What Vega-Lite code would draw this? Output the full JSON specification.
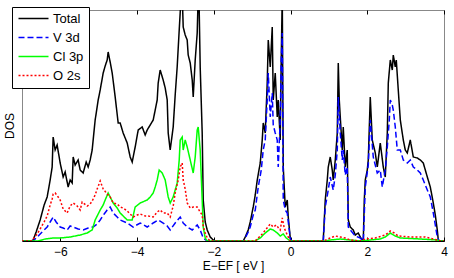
{
"$schema":"https://vega.github.io/schema/vega-lite/v6.json",
"width":422,"height":231,
"autosize":{"type":"none"},
"padding":{"left":22,"top":10,"right":10,"bottom":37},
"config":{"font":"Liberation Sans","view":{"stroke":"#888888","strokeWidth":1},"background":"white"},
"datasets":{"dos":[
{"s":"Total","x":-7,"y":0},{"s":"Total","x":-6.762,"y":0},{"s":"Total","x":-6.709,"y":0.1},{"s":"Total","x":-6.631,"y":0.9},{"s":"Total","x":-6.527,"y":2.1},{"s":"Total","x":-6.423,"y":3.6},{"s":"Total","x":-6.344,"y":4.4},{"s":"Total","x":-6.266,"y":6.1},{"s":"Total","x":-6.214,"y":7.4},{"s":"Total","x":-6.188,"y":10.4},{"s":"Total","x":-6.136,"y":9.1},{"s":"Total","x":-6.084,"y":9.6},{"s":"Total","x":-6.005,"y":7.8},{"s":"Total","x":-5.927,"y":6.4},{"s":"Total","x":-5.875,"y":6.9},{"s":"Total","x":-5.797,"y":5.4},{"s":"Total","x":-5.745,"y":6.1},{"s":"Total","x":-5.692,"y":5.8},{"s":"Total","x":-5.666,"y":8.4},{"s":"Total","x":-5.614,"y":7.6},{"s":"Total","x":-5.536,"y":8.1},{"s":"Total","x":-5.484,"y":7.1},{"s":"Total","x":-5.406,"y":6.8},{"s":"Total","x":-5.327,"y":7.9},{"s":"Total","x":-5.275,"y":7.4},{"s":"Total","x":-5.223,"y":8.1},{"s":"Total","x":-5.171,"y":9.1},{"s":"Total","x":-5.093,"y":12.1},{"s":"Total","x":-5.014,"y":14.1},{"s":"Total","x":-4.962,"y":15.1},{"s":"Total","x":-4.884,"y":16.8},{"s":"Total","x":-4.832,"y":17.5},{"s":"Total","x":-4.78,"y":18.1},{"s":"Total","x":-4.754,"y":18.9},{"s":"Total","x":-4.702,"y":17.9},{"s":"Total","x":-4.649,"y":16.8},{"s":"Total","x":-4.571,"y":14.4},{"s":"Total","x":-4.493,"y":11.8},{"s":"Total","x":-4.441,"y":11.8},{"s":"Total","x":-4.363,"y":10.8},{"s":"Total","x":-4.258,"y":9.8},{"s":"Total","x":-4.18,"y":8.4},{"s":"Total","x":-4.128,"y":7.9},{"s":"Total","x":-4.05,"y":9.4},{"s":"Total","x":-3.971,"y":11.1},{"s":"Total","x":-3.867,"y":11.4},{"s":"Total","x":-3.789,"y":10.6},{"s":"Total","x":-3.737,"y":11.1},{"s":"Total","x":-3.658,"y":11.6},{"s":"Total","x":-3.58,"y":12.1},{"s":"Total","x":-3.528,"y":13.1},{"s":"Total","x":-3.476,"y":14.1},{"s":"Total","x":-3.45,"y":15.8},{"s":"Total","x":-3.398,"y":17.1},{"s":"Total","x":-3.32,"y":16.1},{"s":"Total","x":-3.267,"y":15.3},{"s":"Total","x":-3.215,"y":14.1},{"s":"Total","x":-3.189,"y":10.8},{"s":"Total","x":-3.137,"y":9.1},{"s":"Total","x":-3.059,"y":11.4},{"s":"Total","x":-3.007,"y":14.6},{"s":"Total","x":-2.955,"y":17.4},{"s":"Total","x":-2.902,"y":21.1},{"s":"Total","x":-2.85,"y":24.6},{"s":"Total","x":-2.824,"y":24.6},{"s":"Total","x":-2.798,"y":21.4},{"s":"Total","x":-2.746,"y":20.6},{"s":"Total","x":-2.694,"y":20.1},{"s":"Total","x":-2.668,"y":18.6},{"s":"Total","x":-2.615,"y":17.8},{"s":"Total","x":-2.563,"y":16.1},{"s":"Total","x":-2.537,"y":14.4},{"s":"Total","x":-2.485,"y":18.1},{"s":"Total","x":-2.433,"y":20.8},{"s":"Total","x":-2.407,"y":24.6},{"s":"Total","x":-2.381,"y":23.1},{"s":"Total","x":-2.355,"y":17.4},{"s":"Total","x":-2.303,"y":10.8},{"s":"Total","x":-2.276,"y":4.1},{"s":"Total","x":-2.224,"y":1.9},{"s":"Total","x":-2.172,"y":1.1},{"s":"Total","x":-2.094,"y":0.4},{"s":"Total","x":-2.016,"y":0.1},{"s":"Total","x":-1.964,"y":0},{"s":"Total","x":-1.233,"y":0},{"s":"Total","x":-1.181,"y":0.4},{"s":"Total","x":-1.103,"y":1.1},{"s":"Total","x":-1.051,"y":1.9},{"s":"Total","x":-0.973,"y":3.4},{"s":"Total","x":-0.92,"y":4.6},{"s":"Total","x":-0.868,"y":6.1},{"s":"Total","x":-0.79,"y":7.8},{"s":"Total","x":-0.738,"y":10.1},{"s":"Total","x":-0.712,"y":11.8},{"s":"Total","x":-0.66,"y":10.8},{"s":"Total","x":-0.608,"y":15.8},{"s":"Total","x":-0.581,"y":20.1},{"s":"Total","x":-0.529,"y":17.4},{"s":"Total","x":-0.477,"y":21.4},{"s":"Total","x":-0.451,"y":14.1},{"s":"Total","x":-0.399,"y":16.8},{"s":"Total","x":-0.347,"y":12.4},{"s":"Total","x":-0.321,"y":14.1},{"s":"Total","x":-0.269,"y":10.1},{"s":"Total","x":-0.243,"y":18.1},{"s":"Total","x":-0.216,"y":24.6},{"s":"Total","x":-0.19,"y":7.4},{"s":"Total","x":-0.138,"y":3.4},{"s":"Total","x":-0.086,"y":4.1},{"s":"Total","x":-0.06,"y":2.4},{"s":"Total","x":-0.008,"y":0.3},{"s":"Total","x":0.018,"y":0},{"s":"Total","x":0.827,"y":0},{"s":"Total","x":0.853,"y":0.1},{"s":"Total","x":0.905,"y":4.1},{"s":"Total","x":0.957,"y":6.1},{"s":"Total","x":0.983,"y":7.4},{"s":"Total","x":1.035,"y":8.4},{"s":"Total","x":1.087,"y":7.1},{"s":"Total","x":1.113,"y":6.1},{"s":"Total","x":1.166,"y":8.1},{"s":"Total","x":1.218,"y":10.8},{"s":"Total","x":1.244,"y":17.8},{"s":"Total","x":1.27,"y":14.1},{"s":"Total","x":1.296,"y":12.4},{"s":"Total","x":1.348,"y":9.1},{"s":"Total","x":1.374,"y":11.4},{"s":"Total","x":1.426,"y":7.4},{"s":"Total","x":1.478,"y":9.1},{"s":"Total","x":1.505,"y":2.1},{"s":"Total","x":1.557,"y":1.4},{"s":"Total","x":1.635,"y":1.1},{"s":"Total","x":1.687,"y":0.6},{"s":"Total","x":1.765,"y":0.8},{"s":"Total","x":1.817,"y":0.4},{"s":"Total","x":1.87,"y":0.1},{"s":"Total","x":1.896,"y":0},{"s":"Total","x":1.922,"y":4.1},{"s":"Total","x":1.948,"y":6.1},{"s":"Total","x":2.0,"y":7.1},{"s":"Total","x":2.026,"y":8.1},{"s":"Total","x":2.078,"y":14.4},{"s":"Total","x":2.13,"y":10.1},{"s":"Total","x":2.209,"y":8.8},{"s":"Total","x":2.261,"y":7.4},{"s":"Total","x":2.339,"y":9.8},{"s":"Total","x":2.417,"y":7.4},{"s":"Total","x":2.469,"y":6.4},{"s":"Total","x":2.522,"y":10.8},{"s":"Total","x":2.548,"y":15.8},{"s":"Total","x":2.6,"y":18.1},{"s":"Total","x":2.652,"y":17.1},{"s":"Total","x":2.678,"y":18.6},{"s":"Total","x":2.73,"y":17.4},{"s":"Total","x":2.756,"y":18.1},{"s":"Total","x":2.808,"y":15.1},{"s":"Total","x":2.861,"y":12.1},{"s":"Total","x":2.939,"y":10.1},{"s":"Total","x":2.991,"y":9.1},{"s":"Total","x":3.043,"y":8.8},{"s":"Total","x":3.121,"y":10.1},{"s":"Total","x":3.2,"y":8.4},{"s":"Total","x":3.304,"y":8.3},{"s":"Total","x":3.382,"y":8.1},{"s":"Total","x":3.46,"y":7.8},{"s":"Total","x":3.565,"y":6.4},{"s":"Total","x":3.643,"y":5.4},{"s":"Total","x":3.721,"y":3.8},{"s":"Total","x":3.773,"y":2.6},{"s":"Total","x":3.825,"y":1.1},{"s":"Total","x":3.851,"y":0.1},{"s":"Total","x":3.877,"y":0},{"s":"Total","x":4.0,"y":0},
{"s":"V 3d","x":-7,"y":0},{"s":"V 3d","x":-6.709,"y":0},{"s":"V 3d","x":-6.605,"y":0.4},{"s":"V 3d","x":-6.475,"y":0.9},{"s":"V 3d","x":-6.344,"y":1.4},{"s":"V 3d","x":-6.266,"y":1.9},{"s":"V 3d","x":-6.188,"y":2.4},{"s":"V 3d","x":-6.11,"y":1.9},{"s":"V 3d","x":-6.005,"y":1.4},{"s":"V 3d","x":-5.927,"y":1.3},{"s":"V 3d","x":-5.823,"y":1.1},{"s":"V 3d","x":-5.745,"y":1.5},{"s":"V 3d","x":-5.666,"y":1.4},{"s":"V 3d","x":-5.536,"y":1.2},{"s":"V 3d","x":-5.406,"y":1.1},{"s":"V 3d","x":-5.275,"y":1.3},{"s":"V 3d","x":-5.145,"y":1.4},{"s":"V 3d","x":-5.041,"y":1.7},{"s":"V 3d","x":-4.962,"y":2.1},{"s":"V 3d","x":-4.858,"y":2.7},{"s":"V 3d","x":-4.78,"y":3.1},{"s":"V 3d","x":-4.702,"y":3.4},{"s":"V 3d","x":-4.623,"y":2.8},{"s":"V 3d","x":-4.519,"y":2.4},{"s":"V 3d","x":-4.441,"y":2.1},{"s":"V 3d","x":-4.258,"y":1.8},{"s":"V 3d","x":-4.102,"y":1.4},{"s":"V 3d","x":-3.919,"y":1.8},{"s":"V 3d","x":-3.737,"y":1.4},{"s":"V 3d","x":-3.58,"y":1.8},{"s":"V 3d","x":-3.45,"y":2.1},{"s":"V 3d","x":-3.32,"y":1.8},{"s":"V 3d","x":-3.215,"y":1.5},{"s":"V 3d","x":-3.137,"y":1.1},{"s":"V 3d","x":-3.007,"y":1.8},{"s":"V 3d","x":-2.876,"y":2.4},{"s":"V 3d","x":-2.798,"y":1.8},{"s":"V 3d","x":-2.694,"y":1.4},{"s":"V 3d","x":-2.563,"y":1.1},{"s":"V 3d","x":-2.433,"y":1.6},{"s":"V 3d","x":-2.355,"y":1.1},{"s":"V 3d","x":-2.276,"y":0.3},{"s":"V 3d","x":-2.172,"y":0},{"s":"V 3d","x":-1.207,"y":0},{"s":"V 3d","x":-1.181,"y":0.3},{"s":"V 3d","x":-1.103,"y":0.9},{"s":"V 3d","x":-1.051,"y":1.4},{"s":"V 3d","x":-0.973,"y":2.6},{"s":"V 3d","x":-0.92,"y":3.1},{"s":"V 3d","x":-0.842,"y":5.4},{"s":"V 3d","x":-0.764,"y":7.1},{"s":"V 3d","x":-0.712,"y":9.1},{"s":"V 3d","x":-0.66,"y":10.1},{"s":"V 3d","x":-0.608,"y":14.1},{"s":"V 3d","x":-0.581,"y":16.8},{"s":"V 3d","x":-0.529,"y":12.4},{"s":"V 3d","x":-0.477,"y":14.8},{"s":"V 3d","x":-0.451,"y":11.6},{"s":"V 3d","x":-0.399,"y":10.8},{"s":"V 3d","x":-0.347,"y":10.1},{"s":"V 3d","x":-0.321,"y":7.4},{"s":"V 3d","x":-0.269,"y":12.1},{"s":"V 3d","x":-0.243,"y":18.1},{"s":"V 3d","x":-0.216,"y":20.8},{"s":"V 3d","x":-0.19,"y":4.1},{"s":"V 3d","x":-0.138,"y":3.1},{"s":"V 3d","x":-0.086,"y":2.8},{"s":"V 3d","x":-0.034,"y":1.1},{"s":"V 3d","x":-0.008,"y":0.3},{"s":"V 3d","x":0.018,"y":0},{"s":"V 3d","x":0.853,"y":0},{"s":"V 3d","x":0.905,"y":3.4},{"s":"V 3d","x":0.983,"y":5.1},{"s":"V 3d","x":1.035,"y":6.4},{"s":"V 3d","x":1.113,"y":5.1},{"s":"V 3d","x":1.166,"y":6.6},{"s":"V 3d","x":1.218,"y":9.1},{"s":"V 3d","x":1.244,"y":14.4},{"s":"V 3d","x":1.296,"y":10.8},{"s":"V 3d","x":1.348,"y":8.1},{"s":"V 3d","x":1.374,"y":9.1},{"s":"V 3d","x":1.426,"y":6.6},{"s":"V 3d","x":1.478,"y":7.4},{"s":"V 3d","x":1.505,"y":1.4},{"s":"V 3d","x":1.557,"y":1.1},{"s":"V 3d","x":1.687,"y":0.5},{"s":"V 3d","x":1.817,"y":0.3},{"s":"V 3d","x":1.896,"y":0},{"s":"V 3d","x":1.922,"y":2.6},{"s":"V 3d","x":1.948,"y":5.4},{"s":"V 3d","x":2.026,"y":7.6},{"s":"V 3d","x":2.078,"y":12.1},{"s":"V 3d","x":2.156,"y":8.4},{"s":"V 3d","x":2.261,"y":6.8},{"s":"V 3d","x":2.339,"y":7.1},{"s":"V 3d","x":2.391,"y":5.4},{"s":"V 3d","x":2.469,"y":7.1},{"s":"V 3d","x":2.522,"y":9.4},{"s":"V 3d","x":2.574,"y":12.1},{"s":"V 3d","x":2.6,"y":14.1},{"s":"V 3d","x":2.652,"y":13.6},{"s":"V 3d","x":2.678,"y":13.1},{"s":"V 3d","x":2.73,"y":11.4},{"s":"V 3d","x":2.782,"y":9.1},{"s":"V 3d","x":2.861,"y":9.1},{"s":"V 3d","x":2.939,"y":8.1},{"s":"V 3d","x":3.043,"y":7.8},{"s":"V 3d","x":3.121,"y":8.1},{"s":"V 3d","x":3.2,"y":7.4},{"s":"V 3d","x":3.304,"y":7.1},{"s":"V 3d","x":3.382,"y":6.8},{"s":"V 3d","x":3.46,"y":6.1},{"s":"V 3d","x":3.565,"y":5.1},{"s":"V 3d","x":3.643,"y":4.4},{"s":"V 3d","x":3.721,"y":2.8},{"s":"V 3d","x":3.773,"y":1.6},{"s":"V 3d","x":3.825,"y":0.4},{"s":"V 3d","x":3.877,"y":0},{"s":"V 3d","x":4.0,"y":0},
{"s":"Cl 3p","x":-7,"y":0},{"s":"Cl 3p","x":-6.579,"y":0},{"s":"Cl 3p","x":-6.397,"y":0.2},{"s":"Cl 3p","x":-6.188,"y":0.3},{"s":"Cl 3p","x":-6.005,"y":0.3},{"s":"Cl 3p","x":-5.745,"y":0.4},{"s":"Cl 3p","x":-5.484,"y":0.6},{"s":"Cl 3p","x":-5.301,"y":0.8},{"s":"Cl 3p","x":-5.171,"y":1.1},{"s":"Cl 3p","x":-5.093,"y":2.1},{"s":"Cl 3p","x":-5.014,"y":2.7},{"s":"Cl 3p","x":-4.962,"y":3.1},{"s":"Cl 3p","x":-4.884,"y":3.6},{"s":"Cl 3p","x":-4.832,"y":4.1},{"s":"Cl 3p","x":-4.754,"y":4.8},{"s":"Cl 3p","x":-4.702,"y":4.4},{"s":"Cl 3p","x":-4.623,"y":3.8},{"s":"Cl 3p","x":-4.519,"y":3.3},{"s":"Cl 3p","x":-4.441,"y":2.8},{"s":"Cl 3p","x":-4.258,"y":2.1},{"s":"Cl 3p","x":-4.128,"y":2.1},{"s":"Cl 3p","x":-4.05,"y":3.4},{"s":"Cl 3p","x":-3.919,"y":3.8},{"s":"Cl 3p","x":-3.737,"y":4.1},{"s":"Cl 3p","x":-3.658,"y":4.4},{"s":"Cl 3p","x":-3.58,"y":4.8},{"s":"Cl 3p","x":-3.528,"y":5.4},{"s":"Cl 3p","x":-3.476,"y":6.1},{"s":"Cl 3p","x":-3.424,"y":7.1},{"s":"Cl 3p","x":-3.346,"y":6.8},{"s":"Cl 3p","x":-3.267,"y":6.1},{"s":"Cl 3p","x":-3.189,"y":4.4},{"s":"Cl 3p","x":-3.137,"y":3.8},{"s":"Cl 3p","x":-3.059,"y":4.4},{"s":"Cl 3p","x":-2.955,"y":5.8},{"s":"Cl 3p","x":-2.902,"y":8.1},{"s":"Cl 3p","x":-2.876,"y":10.1},{"s":"Cl 3p","x":-2.824,"y":10.4},{"s":"Cl 3p","x":-2.798,"y":9.1},{"s":"Cl 3p","x":-2.746,"y":10.1},{"s":"Cl 3p","x":-2.694,"y":9.4},{"s":"Cl 3p","x":-2.615,"y":8.1},{"s":"Cl 3p","x":-2.537,"y":6.8},{"s":"Cl 3p","x":-2.485,"y":8.4},{"s":"Cl 3p","x":-2.433,"y":11.1},{"s":"Cl 3p","x":-2.407,"y":11.4},{"s":"Cl 3p","x":-2.355,"y":9.1},{"s":"Cl 3p","x":-2.303,"y":4.1},{"s":"Cl 3p","x":-2.276,"y":1.4},{"s":"Cl 3p","x":-2.224,"y":0.3},{"s":"Cl 3p","x":-2.172,"y":0},{"s":"Cl 3p","x":-0.92,"y":0},{"s":"Cl 3p","x":-0.79,"y":0.3},{"s":"Cl 3p","x":-0.66,"y":0.8},{"s":"Cl 3p","x":-0.529,"y":1.2},{"s":"Cl 3p","x":-0.451,"y":1.1},{"s":"Cl 3p","x":-0.347,"y":0.8},{"s":"Cl 3p","x":-0.269,"y":0.5},{"s":"Cl 3p","x":-0.19,"y":0.7},{"s":"Cl 3p","x":-0.112,"y":0.3},{"s":"Cl 3p","x":-0.008,"y":0},{"s":"Cl 3p","x":0.905,"y":0},{"s":"Cl 3p","x":1.035,"y":0.1},{"s":"Cl 3p","x":1.296,"y":0.2},{"s":"Cl 3p","x":1.557,"y":0.1},{"s":"Cl 3p","x":1.817,"y":0},{"s":"Cl 3p","x":2.078,"y":0.1},{"s":"Cl 3p","x":2.339,"y":0.2},{"s":"Cl 3p","x":2.469,"y":0.4},{"s":"Cl 3p","x":2.6,"y":0.8},{"s":"Cl 3p","x":2.73,"y":0.5},{"s":"Cl 3p","x":2.861,"y":0.3},{"s":"Cl 3p","x":3.382,"y":0.2},{"s":"Cl 3p","x":3.825,"y":0.1},{"s":"Cl 3p","x":3.904,"y":0},{"s":"Cl 3p","x":4.0,"y":0},
{"s":"O 2s","x":-7,"y":0},{"s":"O 2s","x":-6.762,"y":0},{"s":"O 2s","x":-6.709,"y":0.2},{"s":"O 2s","x":-6.605,"y":0.7},{"s":"O 2s","x":-6.527,"y":1.2},{"s":"O 2s","x":-6.423,"y":1.9},{"s":"O 2s","x":-6.344,"y":2.5},{"s":"O 2s","x":-6.266,"y":3.6},{"s":"O 2s","x":-6.214,"y":4.2},{"s":"O 2s","x":-6.188,"y":4.7},{"s":"O 2s","x":-6.136,"y":4.8},{"s":"O 2s","x":-6.057,"y":4.4},{"s":"O 2s","x":-6.005,"y":4.1},{"s":"O 2s","x":-5.927,"y":3.2},{"s":"O 2s","x":-5.823,"y":2.8},{"s":"O 2s","x":-5.745,"y":3.5},{"s":"O 2s","x":-5.666,"y":3.8},{"s":"O 2s","x":-5.562,"y":3.5},{"s":"O 2s","x":-5.484,"y":3.1},{"s":"O 2s","x":-5.432,"y":3.9},{"s":"O 2s","x":-5.301,"y":3.5},{"s":"O 2s","x":-5.223,"y":3.7},{"s":"O 2s","x":-5.171,"y":4.0},{"s":"O 2s","x":-5.093,"y":4.6},{"s":"O 2s","x":-5.041,"y":5.2},{"s":"O 2s","x":-4.962,"y":6.0},{"s":"O 2s","x":-4.884,"y":5.2},{"s":"O 2s","x":-4.78,"y":4.7},{"s":"O 2s","x":-4.702,"y":4.4},{"s":"O 2s","x":-4.623,"y":3.8},{"s":"O 2s","x":-4.519,"y":3.7},{"s":"O 2s","x":-4.441,"y":3.4},{"s":"O 2s","x":-4.363,"y":3.3},{"s":"O 2s","x":-4.258,"y":3.0},{"s":"O 2s","x":-4.18,"y":2.7},{"s":"O 2s","x":-4.102,"y":2.4},{"s":"O 2s","x":-3.997,"y":2.6},{"s":"O 2s","x":-3.919,"y":2.7},{"s":"O 2s","x":-3.789,"y":2.5},{"s":"O 2s","x":-3.711,"y":2.5},{"s":"O 2s","x":-3.58,"y":2.4},{"s":"O 2s","x":-3.476,"y":2.9},{"s":"O 2s","x":-3.398,"y":3.1},{"s":"O 2s","x":-3.32,"y":2.8},{"s":"O 2s","x":-3.215,"y":2.8},{"s":"O 2s","x":-3.137,"y":2.4},{"s":"O 2s","x":-3.059,"y":3.5},{"s":"O 2s","x":-3.007,"y":4.8},{"s":"O 2s","x":-2.928,"y":6.1},{"s":"O 2s","x":-2.876,"y":7.4},{"s":"O 2s","x":-2.824,"y":7.8},{"s":"O 2s","x":-2.798,"y":6.1},{"s":"O 2s","x":-2.746,"y":5.2},{"s":"O 2s","x":-2.694,"y":3.8},{"s":"O 2s","x":-2.615,"y":3.3},{"s":"O 2s","x":-2.537,"y":3.4},{"s":"O 2s","x":-2.433,"y":3.4},{"s":"O 2s","x":-2.355,"y":2.9},{"s":"O 2s","x":-2.303,"y":2.6},{"s":"O 2s","x":-2.276,"y":1.5},{"s":"O 2s","x":-2.224,"y":0.8},{"s":"O 2s","x":-2.172,"y":0.3},{"s":"O 2s","x":-2.094,"y":0},{"s":"O 2s","x":-0.92,"y":0},{"s":"O 2s","x":-0.842,"y":0.3},{"s":"O 2s","x":-0.738,"y":0.7},{"s":"O 2s","x":-0.634,"y":1.2},{"s":"O 2s","x":-0.529,"y":1.7},{"s":"O 2s","x":-0.451,"y":1.4},{"s":"O 2s","x":-0.373,"y":1.6},{"s":"O 2s","x":-0.269,"y":1.1},{"s":"O 2s","x":-0.216,"y":2.3},{"s":"O 2s","x":-0.164,"y":1.3},{"s":"O 2s","x":-0.086,"y":0.6},{"s":"O 2s","x":-0.008,"y":0},{"s":"O 2s","x":0.853,"y":0},{"s":"O 2s","x":1.035,"y":0.3},{"s":"O 2s","x":1.166,"y":0.5},{"s":"O 2s","x":1.296,"y":0.4},{"s":"O 2s","x":1.426,"y":0.3},{"s":"O 2s","x":1.557,"y":0.1},{"s":"O 2s","x":1.817,"y":0},{"s":"O 2s","x":1.948,"y":0.2},{"s":"O 2s","x":2.209,"y":0.3},{"s":"O 2s","x":2.469,"y":0.6},{"s":"O 2s","x":2.6,"y":1.0},{"s":"O 2s","x":2.704,"y":0.8},{"s":"O 2s","x":2.808,"y":0.5},{"s":"O 2s","x":3.121,"y":0.4},{"s":"O 2s","x":3.512,"y":0.4},{"s":"O 2s","x":3.825,"y":0.1},{"s":"O 2s","x":3.904,"y":0},{"s":"O 2s","x":4.0,"y":0}
]},
"data":{"name":"dos"},
"layer":[
{"mark":{"type":"line","strokeWidth":1.5,"clip":true},
 "encoding":{
  "x":{"field":"x","type":"quantitative","scale":{"domain":[-7,4],"nice":false,"zero":false},
       "axis":{"title":"E−EF [ eV ]","values":[-6,-4,-2,0,2,4],"grid":false,"tickSize":-4,"tickColor":"black","domainColor":"black","labelFontSize":12,"labelColor":"black","labelPadding":9,"titleFontSize":12,"titleFontWeight":"normal","titleColor":"black","titlePadding":3,"labelFlush":false}},
  "y":{"field":"y","type":"quantitative","scale":{"domain":[0,23.1],"nice":false},
       "axis":{"title":"DOS","labels":false,"ticks":false,"domain":false,"grid":false,"titleFontSize":12,"titleFontWeight":"normal","titleColor":"black","titlePadding":6}},
  "color":{"field":"s","type":"nominal","scale":{"domain":["Total","V 3d","Cl 3p","O 2s"],"range":["#000000","#0000ff","#00ff00","#ff0000"]},
       "legend":{"orient":"none","legendX":-10,"legendY":-3,"title":null,"symbolType":"M-1,0L5,0","symbolSize":100,"symbolStrokeWidth":1.5,"labelFontSize":13,"labelColor":"black","padding":5,"rowPadding":5,"strokeColor":"black","fillColor":"white","labelOffset":23}},
  "strokeDash":{"field":"s","type":"nominal","scale":{"domain":["Total","V 3d","Cl 3p","O 2s"],"range":[[1,0],[6,3],[1,0],[2,2]]},
       "legend":{"orient":"none","legendX":-10,"legendY":-3,"title":null,"symbolType":"M-1,0L5,0","symbolSize":100,"symbolStrokeWidth":1.5,"labelFontSize":13,"labelColor":"black","padding":5,"rowPadding":5,"strokeColor":"black","fillColor":"white","labelOffset":23}}
 }},
{"mark":{"type":"rule","opacity":0},
 "encoding":{"x":{"datum":0,"type":"quantitative","axis":{"orient":"top","title":null,"labels":false,"domain":false,"grid":false,"tickSize":-4,"tickColor":"black","values":[-6,-4,-2,0,2,4]}}}}
],
"resolve":{"axis":{"x":"independent"}}
}
